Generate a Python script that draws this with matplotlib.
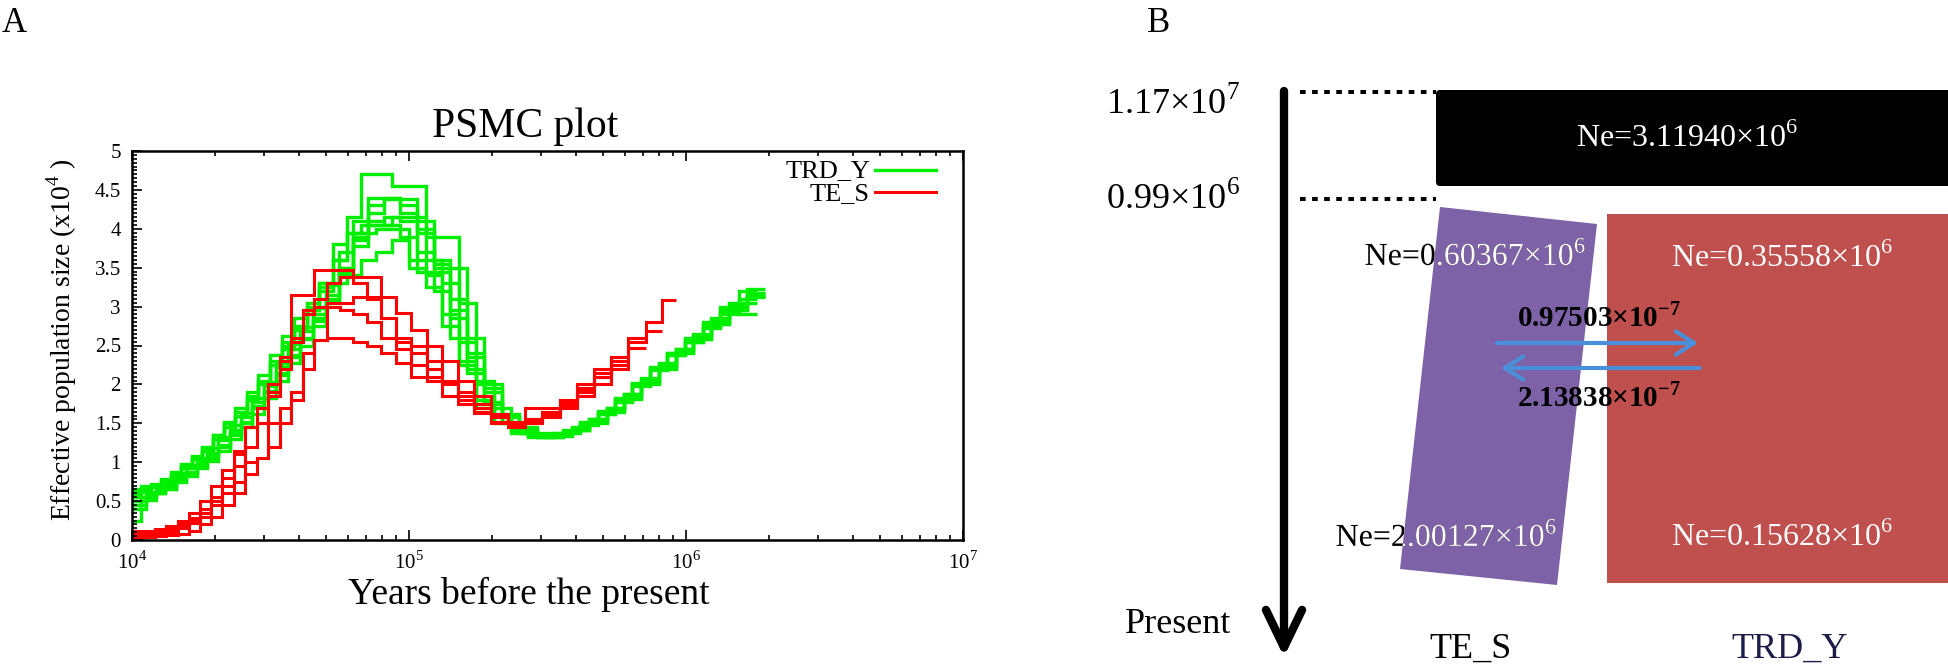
import matplotlib
matplotlib.use("Agg")
import matplotlib.pyplot as plt
from matplotlib.patches import Polygon, Rectangle, FancyBboxPatch, PathPatch
from matplotlib.textpath import TextPath
from matplotlib.font_manager import FontProperties
from matplotlib.transforms import Affine2D

plt.rcParams['font.family'] = ['Liberation Serif', 'DejaVu Serif']
plt.rcParams['mathtext.fontset'] = 'custom'
plt.rcParams['mathtext.rm'] = 'Liberation Serif'
plt.rcParams['mathtext.bf'] = 'Liberation Serif:bold'

# ---- panel A data: PSMC step curves (years, Ne x10^4) ----
grid_1 = [1.00e4, 1.08e4, 1.17e4, 1.27e4, 1.38e4, 1.50e4, 1.64e4, 1.79e4, 1.96e4, 2.15e4,
          2.36e4, 2.60e4, 2.86e4, 3.15e4, 3.48e4, 3.85e4, 4.27e4, 4.75e4, 5.30e4, 5.95e4,
          6.70e4, 7.60e4, 8.70e4, 1.00e5, 1.15e5, 1.32e5, 1.52e5, 1.75e5, 2.02e5, 2.33e5,
          2.70e5, 3.12e5, 3.60e5, 4.15e5, 4.80e5, 5.55e5, 6.40e5, 7.40e5, 8.55e5, 9.90e5,
          1.15e6, 1.33e6, 1.55e6, 1.80e6]
grid_2 = [1.00e4, 1.12e4, 1.22e4, 1.32e4, 1.44e4, 1.57e4, 1.71e4, 1.87e4, 2.05e4, 2.25e4,
          2.47e4, 2.72e4, 3.00e4, 3.31e4, 3.66e4, 4.05e4, 4.50e4, 5.00e4, 5.60e4, 6.30e4,
          7.10e4, 8.10e4, 9.30e4, 1.07e5, 1.23e5, 1.41e5, 1.62e5, 1.87e5, 2.16e5, 2.50e5,
          2.90e5, 3.35e5, 3.87e5, 4.47e5, 5.17e5, 5.98e5, 6.90e5, 7.98e5, 9.20e5, 1.06e6,
          1.23e6, 1.43e6, 1.66e6, 1.93e6]
grid_red = [1.00e4, 1.10e4, 1.21e4, 1.33e4, 1.46e4, 1.60e4, 1.76e4, 1.93e4, 2.12e4, 2.33e4,
            2.56e4, 2.82e4, 3.10e4, 3.41e4, 3.75e4, 4.13e4, 4.55e4, 5.05e4, 5.62e4, 6.28e4,
            7.05e4, 7.95e4, 9.00e4, 1.02e5, 1.16e5, 1.32e5, 1.50e5, 1.72e5, 1.98e5, 2.28e5,
            2.63e5, 3.03e5, 3.50e5, 4.04e5, 4.66e5, 5.38e5, 6.20e5, 7.15e5, 8.20e5, 9.20e5]

trd_y_1 = [0.60, 0.65, 0.70, 0.75, 0.85, 0.95, 1.05, 1.15, 1.30, 1.45, 1.60, 1.80, 2.00, 2.25, 2.45,
           2.70, 2.95, 3.30, 3.80, 4.15, 4.70, 4.70, 4.55, 4.55, 3.90, 3.90, 3.05, 2.00, 1.60, 1.42,
           1.35, 1.35, 1.40, 1.50, 1.65, 1.80, 2.00, 2.20, 2.40, 2.60, 2.80, 3.00, 3.20]
trd_y_2 = [0.50, 0.58, 0.62, 0.68, 0.78, 0.88, 0.98, 1.08, 1.22, 1.38, 1.52, 1.72, 1.92, 2.15, 2.38,
           2.60, 2.85, 3.10, 3.45, 3.85, 4.20, 4.38, 4.38, 4.00, 3.55, 2.85, 2.20, 1.75, 1.50, 1.38,
           1.33, 1.35, 1.42, 1.55, 1.70, 1.88, 2.08, 2.28, 2.45, 2.62, 2.80, 2.98, 3.15]
trd_y_3 = [0.25, 0.55, 0.60, 0.68, 0.80, 0.92, 1.05, 1.18, 1.35, 1.52, 1.70, 1.90, 2.12, 2.38, 2.62,
           2.85, 3.05, 3.30, 3.60, 3.95, 4.05, 4.05, 4.15, 4.15, 3.60, 3.30, 2.55, 2.05, 1.70, 1.45,
           1.35, 1.33, 1.38, 1.48, 1.62, 1.78, 1.98, 2.18, 2.38, 2.55, 2.75, 2.95, 3.10]
trd_y_4 = [0.55, 0.62, 0.66, 0.72, 0.82, 0.92, 1.02, 1.12, 1.28, 1.42, 1.58, 1.78, 1.98, 2.22, 2.45,
           2.68, 2.90, 3.15, 3.50, 3.90, 4.10, 4.05, 3.90, 3.45, 3.45, 2.95, 2.35, 1.90, 1.58, 1.42,
           1.36, 1.37, 1.43, 1.52, 1.68, 1.85, 2.02, 2.22, 2.42, 2.58, 2.78, 2.95, 3.12]
trd_y_5 = [0.65, 0.70, 0.72, 0.78, 0.88, 0.98, 1.08, 1.20, 1.35, 1.50, 1.65, 1.85, 2.05, 2.30, 2.55,
           2.75, 3.00, 3.20, 3.30, 3.40, 3.60, 3.70, 3.85, 3.50, 3.40, 2.90, 2.30, 1.70, 1.50, 1.38,
           1.32, 1.33, 1.40, 1.50, 1.62, 1.80, 2.00, 2.20, 2.38, 2.55, 2.72, 2.90, 3.05]
trd_y_6 = [0.45, 0.55, 0.60, 0.66, 0.74, 0.82, 0.92, 1.02, 1.15, 1.30, 1.45, 1.62, 1.82, 2.05, 2.28,
           2.50, 2.75, 3.05, 3.50, 3.95, 4.30, 4.40, 4.20, 3.95, 3.50, 3.10, 2.40, 1.95, 1.62, 1.45,
           1.38, 1.38, 1.45, 1.55, 1.70, 1.88, 2.05, 2.25, 2.45, 2.65, 2.85, 3.05, 3.22]
trd_y_7 = [0.58, 0.64, 0.68, 0.74, 0.84, 0.94, 1.04, 1.14, 1.30, 1.45, 1.60, 1.82, 2.02, 2.25, 2.50,
           2.72, 2.95, 3.25, 3.60, 3.95, 3.95, 4.00, 4.00, 3.60, 3.25, 2.75, 2.25, 1.80, 1.52, 1.40,
           1.34, 1.36, 1.42, 1.52, 1.66, 1.82, 2.02, 2.22, 2.40, 2.58, 2.76, 2.92, 2.90]
trd_y_8 = [0.40, 0.52, 0.60, 0.66, 0.76, 0.86, 0.96, 1.06, 1.20, 1.35, 1.50, 1.70, 1.90, 2.12, 2.35,
           2.58, 2.82, 3.08, 3.42, 3.78, 4.05, 4.15, 4.10, 4.10, 3.60, 3.50, 2.60, 2.00, 1.60, 1.42,
           1.35, 1.36, 1.42, 1.53, 1.68, 1.84, 2.04, 2.24, 2.44, 2.62, 2.82, 3.02, 3.18]
trd_y_9 = [0.62, 0.68, 0.70, 0.76, 0.86, 0.96, 1.06, 1.18, 1.33, 1.48, 1.63, 1.83, 2.03, 2.28, 2.52,
           2.74, 2.98, 3.28, 3.70, 4.10, 4.40, 4.40, 4.30, 3.70, 3.20, 2.60, 2.15, 1.78, 1.52, 1.38,
           1.32, 1.34, 1.41, 1.51, 1.64, 1.81, 2.00, 2.20, 2.40, 2.58, 2.78, 2.96, 3.14]
trd_y_runs = [(grid_1, trd_y_1), (grid_2, trd_y_2), (grid_1, trd_y_3), (grid_2, trd_y_4),
              (grid_1, trd_y_5), (grid_2, trd_y_6), (grid_1, trd_y_7), (grid_2, trd_y_8),
              (grid_2, trd_y_9)]

te_s_1 = [0.10, 0.10, 0.12, 0.15, 0.20, 0.28, 0.40, 0.55, 0.80, 1.10, 1.45, 1.50, 2.00, 2.35, 3.15,
          3.15, 3.47, 3.47, 3.47, 3.30, 3.10, 2.85, 2.55, 2.50, 2.30, 2.05, 1.80, 1.65, 1.50, 1.48,
          1.55, 1.65, 1.80, 2.00, 2.20, 2.35]
te_s_2 = [0.05, 0.06, 0.08, 0.10, 0.15, 0.22, 0.35, 0.50, 0.70, 0.95, 1.20, 1.50, 1.85, 2.30, 2.60,
          2.95, 3.10, 3.30, 3.38, 3.38, 3.38, 3.12, 2.92, 2.70, 2.50, 2.30, 2.05, 1.85, 1.62, 1.52,
          1.50, 1.60, 1.75, 1.92, 2.10, 2.30, 2.55, 2.68]
te_s_3 = [0.08, 0.08, 0.10, 0.12, 0.18, 0.25, 0.30, 0.45, 0.60, 0.75, 1.00, 1.05, 1.50, 1.70, 1.90,
          2.40, 2.57, 3.05, 3.05, 3.12, 3.12, 2.85, 2.60, 2.40, 2.20, 2.05, 1.90, 1.75, 1.60, 1.50,
          1.52, 1.58, 1.70, 1.85, 2.00, 2.20, 2.47]
te_s_4 = [0.03, 0.04, 0.05, 0.06, 0.08, 0.12, 0.20, 0.30, 0.45, 0.60, 0.85, 1.05, 1.20, 1.50, 1.80,
          2.20, 2.57, 2.60, 2.60, 2.55, 2.50, 2.40, 2.27, 2.10, 2.05, 1.85, 1.75, 1.63, 1.52, 1.45,
          1.70, 1.70, 1.72, 1.90, 2.10, 2.25]
te_s_5 = [0.12, 0.12, 0.14, 0.18, 0.25, 0.35, 0.50, 0.70, 0.90, 1.15, 1.45, 1.70, 1.90, 2.20, 2.55,
          2.90, 3.00, 3.00, 2.95, 2.90, 2.80, 2.60, 2.45, 2.25, 2.10, 2.00, 1.85, 1.70, 1.58, 1.50,
          1.55, 1.62, 1.78, 1.95, 2.15, 2.35, 2.60, 2.80, 3.08]
te_s_runs = [te_s_1, te_s_2, te_s_3, te_s_4, te_s_5]

xtick_vals = [1e4, 1e5, 1e6, 1e7]
xtick_labels = ['10$^{4}$', '10$^{5}$', '10$^{6}$', '10$^{7}$']
ytick_vals = [0, 0.5, 1, 1.5, 2, 2.5, 3, 3.5, 4, 4.5, 5]
ytick_labels = ['0', '0.5', '1', '1.5', '2', '2.5', '3', '3.5', '4', '4.5', '5']

# ---- panel B data ----
time_labels = ['1.17×10$^{7}$', '0.99×10$^{6}$']
ne_ancestral = 'Ne=3.11940×10$^{6}$'
ne_te_s = ['Ne=0.60367×10$^{6}$', 'Ne=2.00127×10$^{6}$']
ne_trd_y = ['Ne=0.35558×10$^{6}$', 'Ne=0.15628×10$^{6}$']
mig_rates = ['0.97503×10$^{\\mathbf{-7}}$', '2.13838×10$^{\\mathbf{-7}}$']
pop_names = ['TE_S', 'TRD_Y']

W, H = 1948, 668
fig = plt.figure(figsize=(W / 100, H / 100), dpi=100)

# ---------------- panel A ----------------
ax = fig.add_axes([132 / W, 1 - 540 / H, 831 / W, 389 / H])
for edges, vals in trd_y_runs:
    ax.stairs(vals, edges[:len(vals) + 1], baseline=None, color='#00ee00', lw=2.4)
for vals in te_s_runs:
    ax.stairs(vals, grid_red[:len(vals) + 1], baseline=None, color='#ff0000', lw=2.2)
ax.set_xscale('log')
ax.set_xlim(1e4, 1e7)
ax.set_ylim(0, 5)
ax.set_xticks(xtick_vals)
ax.set_xticklabels(xtick_labels)
ax.set_yticks(ytick_vals)
ax.set_yticklabels(ytick_labels)
ax.set_yticks([i * 0.05 for i in range(101)], minor=True)
ax.tick_params(which='both', direction='in', top=True, right=False, labelsize=15, width=1.2)
ax.tick_params(which='major', length=7, pad=8)
ax.tick_params(which='minor', length=3.5)
for s in ax.spines.values():
    s.set_linewidth(1.8)

# overlay in pixel coordinates
ov = fig.add_axes([0, 0, 1, 1])
ov.set_xlim(0, W)
ov.set_ylim(H, 0)
ov.axis('off')

ov.text(2, 32, 'A', fontsize=25, ha='left', va='baseline')
ov.text(525, 137, 'PSMC plot', fontsize=30, ha='center', va='baseline')
ov.text(529, 604, 'Years before the present', fontsize=27, ha='center', va='baseline')
ov.text(62, 340, 'Effective population size (x10$^{4}$ )', fontsize=20, rotation=90,
        ha='center', va='center')
# legend
ov.text(870, 177, 'TRD_Y', fontsize=19, ha='right', va='baseline')
ov.plot([875, 936], [170, 170], color='#00ee00', lw=2.4)
ov.text(870, 200, 'TE_S', fontsize=19, ha='right', va='baseline')
ov.plot([875, 936], [192, 192], color='#ff0000', lw=2.2)

# ---------------- panel B ----------------
ov.text(1147, 32, 'B', fontsize=25, ha='left', va='baseline')

ov.add_patch(FancyBboxPatch((1436, 90), 520, 96, boxstyle='round,pad=0,rounding_size=4',
                            fc='black', ec='none'))
purple = Polygon([(1440, 207), (1597, 224), (1557, 585), (1400, 569)], closed=True,
                 fc='#7e62a8', ec='none')
ov.add_patch(purple)
ov.add_patch(Rectangle((1607, 214), 341, 369, fc='#c0504d', ec='none'))

for yy in (92, 199):
    ov.plot([1300, 1436], [yy, yy], color='black', lw=2.9, ls=(0, (1.4, 1.6)),
            solid_capstyle='butt', dash_capstyle='butt')

ov.annotate('', xy=(1284, 657), xytext=(1284, 91),
            arrowprops=dict(arrowstyle='->,head_length=1.35,head_width=0.65', lw=6,
                            color='black', mutation_scale=20, shrinkA=0, shrinkB=0))

ov.text(1240, 114, time_labels[0], fontsize=26, ha='right', va='baseline')
ov.text(1240, 209, time_labels[1], fontsize=26, ha='right', va='baseline')
ov.text(1178, 633, 'Present', fontsize=26, ha='center', va='baseline')

ov.text(1687, 147, ne_ancestral, fontsize=23, color='white', ha='center', va='baseline')

# TE_S labels: white where they lie on the purple block, black outside it.
# Agg ignores clip paths on plain text, so these are drawn as text paths.
fp = FontProperties(family='Liberation Serif')
for txt, xc, yb in zip(ne_te_s, (1475, 1446), (265, 546)):
    tp = TextPath((0, 0), txt, size=23 * 100 / 72, prop=fp)
    ext = tp.get_extents()
    tr = Affine2D().scale(1, -1).translate(xc - (ext.x0 + ext.x1) / 2, yb) + ov.transData
    ov.add_patch(PathPatch(tp, fc='black', ec='none', transform=tr))
    wp = PathPatch(tp, fc='white', ec='none', transform=tr)
    ov.add_patch(wp)
    wp.set_clip_path(purple)

for txt, yb in zip(ne_trd_y, (267, 546)):
    ov.text(1782, yb, txt, fontsize=23, color='white', ha='center', va='baseline')

ov.annotate('', xy=(1698, 343), xytext=(1497, 343),
            arrowprops=dict(arrowstyle='->,head_length=1.1,head_width=0.7', lw=3,
                            color='#4a8fd9', mutation_scale=12, shrinkA=0, shrinkB=0))
ov.annotate('', xy=(1501, 368), xytext=(1700, 368),
            arrowprops=dict(arrowstyle='->,head_length=1.1,head_width=0.7', lw=3,
                            color='#4a8fd9', mutation_scale=12, shrinkA=0, shrinkB=0))
ov.text(1599, 326, mig_rates[0], fontsize=21, fontweight='bold', ha='center', va='baseline')
ov.text(1599, 406, mig_rates[1], fontsize=21, fontweight='bold', ha='center', va='baseline')

ov.text(1470, 658, pop_names[0], fontsize=26, ha='center', va='baseline')
ov.text(1790, 658, pop_names[1], fontsize=26, ha='center', va='baseline', color='#1c1c48')

fig.savefig('out.png', dpi=100)
